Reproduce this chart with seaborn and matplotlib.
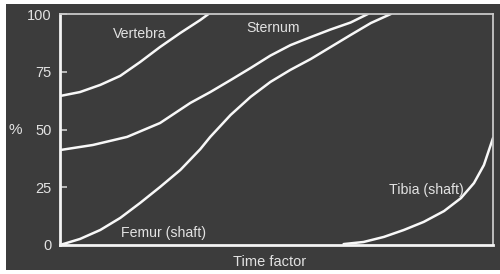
import numpy as np
import pandas as pd
import matplotlib
matplotlib.use("Agg")
import matplotlib.pyplot as plt
from matplotlib.patches import Rectangle
import seaborn as sns

# Data (time factor as fraction of axis, percentage ossified)
vertebra_x = [0.0, 0.046, 0.093, 0.139, 0.185, 0.231, 0.278, 0.324, 0.343]
vertebra_y = [64.5, 66.2, 69.3, 73.2, 79.2, 85.7, 91.8, 97.4, 100.0]

sternum_x = [0.0, 0.076, 0.155, 0.231, 0.301, 0.347, 0.394, 0.440, 0.486,
             0.532, 0.579, 0.625, 0.671, 0.711]
sternum_y = [41.1, 43.3, 46.8, 52.8, 61.5, 66.2, 71.4, 76.6, 82.0,
             86.5, 90.0, 93.3, 96.3, 100.0]

femur_x = [0.0, 0.046, 0.093, 0.139, 0.185, 0.231, 0.278, 0.324, 0.347,
           0.394, 0.440, 0.486, 0.532, 0.579, 0.625, 0.671, 0.718, 0.764]
femur_y = [0.0, 2.6, 6.5, 11.7, 18.2, 25.1, 32.5, 41.5, 46.8,
           56.3, 64.1, 70.6, 75.8, 80.5, 85.7, 90.9, 96.1, 100.0]

tibia_x = [0.655, 0.701, 0.748, 0.794, 0.840, 0.887, 0.926, 0.956, 0.979, 1.0]
tibia_y = [0.4, 1.3, 3.5, 6.5, 10.0, 14.7, 20.3, 26.8, 34.6, 46.3]

y_ticks = [0, 25, 50, 75, 100]

series = {
    "Vertebra": (vertebra_x, vertebra_y),
    "Sternum": (sternum_x, sternum_y),
    "Femur (shaft)": (femur_x, femur_y),
    "Tibia (shaft)": (tibia_x, tibia_y),
}
frames = []
for name, (xs, ys) in series.items():
    frames.append(pd.DataFrame({"time": xs, "pct": ys, "bone": name}))
df = pd.concat(frames, ignore_index=True)

sns.set_theme(style="white")
plt.rcParams["font.family"] = ["Liberation Sans", "DejaVu Sans"]

bg = "#3c3c3c"
txt = "#e2e2e2"

fig = plt.figure(figsize=(5.0, 2.74), dpi=100, facecolor="white")
bgrect = Rectangle((6 / 500, 4 / 274), 494 / 500, 266 / 274,
                   transform=fig.transFigure, facecolor=bg,
                   edgecolor="none", zorder=-10)
fig.patches.append(bgrect)
ax = fig.add_axes([60 / 500, (274 - 245) / 274, 433 / 500, 231 / 274])
ax.set_zorder(5)
ax.set_facecolor(bg)

sns.lineplot(data=df, x="time", y="pct", hue="bone", units="bone",
             estimator=None, sort=False,
             palette={k: "#f8f8f8" for k in series}, linewidth=1.8,
             solid_joinstyle="round", solid_capstyle="round",
             legend=False, ax=ax)

ax.set_xlim(0, 1.0)
ax.set_ylim(0, 100)
ax.set_xticks([])
ax.set_yticks(y_ticks)
ax.set_yticklabels([str(t) for t in y_ticks], color=txt, fontsize=10.5)
ax.tick_params(axis="y", direction="in", length=5, width=1.2,
               color="#cfcfcf", pad=6, left=True)
ax.set_xlabel("")
ax.set_ylabel("")

for side in ["left", "bottom"]:
    ax.spines[side].set_color("#f4f4f4")
    ax.spines[side].set_linewidth(2.0)
for side in ["top", "right"]:
    ax.spines[side].set_color("#c8c8c8")
    ax.spines[side].set_linewidth(1.3)

ax.text(0.185, 91.3, "Vertebra", color=txt, fontsize=10.2, ha="center", va="center")
ax.text(0.491, 94.0, "Sternum", color=txt, fontsize=10.2, ha="center", va="center")
ax.text(0.238, 5.2, "Femur (shaft)", color=txt, fontsize=10.2, ha="center", va="center")
ax.text(0.847, 23.8, "Tibia (shaft)", color=txt, fontsize=10.2, ha="center", va="center")

fig.text(15 / 500, 1 - 130 / 274, "%", color=txt, fontsize=11, ha="center", va="center")
fig.text(270 / 500, 1 - 262 / 274, "Time factor", color=txt, fontsize=10.5,
         ha="center", va="center")

fig.savefig("out.png", dpi=100, facecolor="white")
